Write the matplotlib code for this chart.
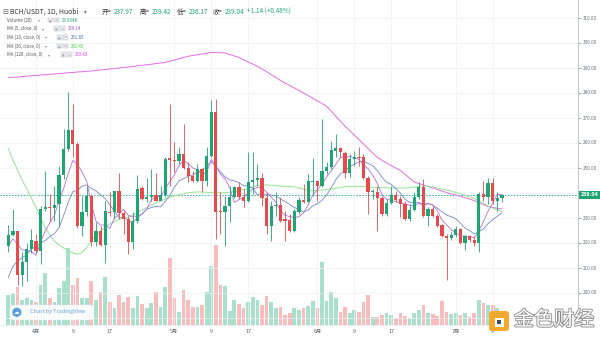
import matplotlib
matplotlib.use('Agg')
import matplotlib.pyplot as plt
import matplotlib.patheffects as pe
import matplotlib.transforms as mtransforms
from matplotlib.patches import Rectangle, FancyBboxPatch, Circle
import numpy as np
import pandas as pd

plt.rcParams['font.family'] = ['Noto Sans CJK SC', 'DejaVu Sans']

# daily BCH/USDT candles, 2020-03-26 .. 2020-07-11
start_date = '2020-03-26'
opens = [218.6, 223.2, 224.4, 207.2, 212.1, 217.5, 220.8, 216.8, 233.5, 234.4,
         234.0, 235.5, 247.1, 257.5, 264.8, 259.5, 226.8, 232.4, 238.5, 220.2,
         224.4, 219.1, 232.4, 232.4, 240.7, 231.8, 229.5, 220.4, 228.8, 241.8,
         237.5, 238.4, 239.1, 236.8, 239.1, 253.8, 253.1, 252.6, 255.5, 249.8,
         246.6, 244.6, 249.5, 244.8, 254.8, 272.4, 232.8, 232.4, 234.8, 238.2,
         242.2, 238.2, 236.8, 244.2, 245.2, 245.9, 237.9, 226.8, 234.6, 235.2,
         229.5, 228.8, 224.6, 232.4, 237.2, 236.2, 244.4, 244.8, 242.8, 248.8,
         250.2, 256.8, 257.8, 255.8, 247.9, 253.5, 254.2, 254.2, 245.8, 240.2,
         240.4, 237.8, 231.5, 235.9, 239.1, 237.5, 235.5, 229.5, 233.2, 238.2,
         242.2, 230.8, 233.5, 230.6, 227.1, 222.8, 221.9, 223.2, 225.5, 219.8,
         222.6, 221.2, 219.9, 239.5, 238.2, 243.9, 236.8, 237.97]
highs = [227.1, 233.5, 224.8, 216.2, 220.0, 225.5, 223.5, 234.8, 248.8, 239.5,
         242.8, 250.8, 265.5, 280.2, 275.5, 260.2, 238.8, 242.8, 239.5, 228.2,
         226.8, 236.8, 240.2, 240.7, 247.9, 232.8, 230.8, 232.2, 247.1, 242.8,
         245.8, 249.5, 247.9, 242.8, 254.2, 275.5, 260.2, 258.2, 267.5, 252.2,
         248.8, 251.5, 249.8, 258.2, 277.2, 277.5, 240.2, 238.8, 242.8, 242.8,
         244.2, 241.5, 256.2, 256.2, 251.5, 247.9, 240.2, 236.8, 240.2, 238.2,
         232.8, 231.5, 233.5, 238.2, 243.5, 247.5, 253.8, 245.2, 269.5, 252.2,
         260.8, 263.5, 258.2, 256.8, 255.5, 256.8, 258.2, 255.5, 246.8, 241.5,
         242.8, 238.8, 237.5, 242.8, 240.8, 238.8, 236.8, 235.5, 240.2, 244.2,
         245.5, 234.2, 234.6, 231.5, 227.5, 223.5, 224.2, 226.8, 225.8, 223.2,
         223.2, 222.8, 240.4, 244.8, 245.8, 245.8, 240.2, 239.42]
lows = [216.2, 222.5, 203.1, 202.8, 204.8, 216.0, 216.0, 211.5, 232.5, 228.8,
        228.8, 226.8, 245.5, 256.8, 254.1, 226.0, 222.8, 230.8, 218.8, 218.8,
        218.5, 212.0, 230.8, 229.5, 229.5, 223.5, 215.5, 217.5, 228.0, 237.0,
        236.2, 236.8, 236.8, 236.5, 238.2, 242.8, 248.2, 251.5, 249.5, 244.2,
        244.2, 244.2, 240.2, 242.8, 254.2, 221.5, 223.5, 218.8, 228.2, 238.0,
        237.5, 234.2, 236.2, 239.5, 242.8, 234.8, 223.5, 220.8, 230.8, 228.2,
        220.8, 224.2, 224.2, 231.5, 235.9, 236.2, 238.8, 236.8, 242.2, 247.5,
        249.5, 254.2, 254.2, 245.8, 246.2, 250.8, 250.8, 245.5, 231.5, 237.5,
        224.8, 230.8, 230.8, 235.5, 236.2, 230.2, 229.2, 228.8, 232.8, 237.5,
        230.2, 226.5, 230.2, 226.2, 222.2, 205.2, 221.2, 222.2, 219.5, 217.2,
        220.2, 218.8, 216.2, 236.8, 235.5, 235.5, 232.8, 236.17]
closes = [223.2, 224.4, 207.2, 212.1, 217.5, 220.8, 216.8, 233.5, 234.4, 233.9,
          235.2, 247.1, 257.5, 264.8, 259.5, 226.8, 232.4, 238.8, 220.2, 224.4,
          219.1, 232.4, 232.0, 240.7, 231.8, 229.5, 220.4, 228.8, 241.5, 237.5,
          238.4, 239.1, 236.8, 239.1, 253.5, 253.1, 252.6, 255.5, 249.8, 246.6,
          244.6, 249.5, 244.8, 254.8, 272.4, 232.4, 232.4, 234.8, 238.2, 242.2,
          238.2, 236.8, 244.2, 245.2, 245.9, 237.9, 226.8, 234.6, 235.2, 228.8,
          228.8, 224.6, 232.4, 237.2, 236.2, 244.4, 244.8, 242.8, 248.8, 250.2,
          256.8, 257.8, 256.4, 247.9, 253.5, 254.2, 253.8, 245.8, 240.2, 240.6,
          237.8, 231.5, 235.9, 239.1, 237.2, 235.5, 229.5, 233.2, 238.2, 242.2,
          230.8, 233.5, 230.6, 226.8, 222.8, 221.9, 223.2, 225.5, 219.8, 222.6,
          221.2, 219.9, 239.5, 238.2, 243.9, 236.8, 237.8, 239.04]
# volume, thousands
volumes = [55, 59, 70, 46, 50, 46, 42, 74, 96, 50,
           42, 68, 81, 142, 74, 86, 50, 50, 81, 46,
           61, 88, 42, 31, 55, 42, 52, 31, 53, 39,
           31, 40, 61, 33, 70, 123, 50, 24, 64, 46,
           33, 33, 37, 61, 109, 147, 74, 72, 26, 46,
           39, 31, 42, 52, 46, 37, 53, 42, 31, 33,
           18, 22, 31, 28, 31, 35, 44, 31, 116, 44,
           61, 50, 24, 33, 22, 28, 24, 42, 55, 15,
           15, 18, 22, 18, 13, 22, 17, 13, 22, 28,
           37, 22, 20, 17, 44, 24, 20, 22, 18, 22,
           15, 22, 46, 40, 37, 37, 31, 23.904]
# closes of the days before the first visible candle (for the short MAs)
prior_closes = [180, 185, 200, 205, 197, 210, 218, 224, 218]
# longer moving averages
ma30 = [257.5, 253.0, 249.0, 245.0, 241.5, 237.8, 234.0, 229.8, 226.0, 223.0,
        220.5, 219.0, 217.8, 216.8, 215.8, 215.3, 216.0, 218.0, 220.8, 222.8,
        224.6, 226.0, 227.4, 228.3, 229.3, 229.8, 230.2, 230.9, 232.0, 233.0,
        234.0, 234.9, 235.8, 236.7, 237.4, 238.0, 238.6, 239.1, 239.5, 239.9,
        240.1, 240.2, 240.2, 240.1, 240.0, 240.0, 239.9, 239.9, 240.1, 240.4,
        240.8, 241.2, 241.6, 242.2, 242.8, 243.0, 243.0, 242.9, 242.8, 242.6,
        242.5, 242.4, 242.2, 241.8, 241.3, 240.8, 240.7, 240.8, 241.0, 241.2,
        241.4, 241.7, 242.0, 242.3, 242.4, 242.5, 242.5, 242.4, 242.2, 242.1,
        242.0, 241.9, 241.9, 241.8, 241.8, 241.8, 241.8, 242.0, 242.2, 242.4,
        242.6, 242.5, 242.2, 241.8, 241.4, 241.0, 240.6, 240.0, 239.5, 238.9,
        238.2, 237.6, 236.7, 235.7, 234.6, 233.7, 233.0, 232.45]
ma120 = [286.0, 286.1, 286.2, 286.4, 286.5, 286.7, 286.8, 287.0, 287.1, 287.3,
         287.4, 287.6, 287.7, 287.9, 288.0, 288.2, 288.3, 288.5, 288.6, 288.8,
         289.0, 289.2, 289.4, 289.6, 289.8, 290.0, 290.2, 290.4, 290.7, 290.9,
         291.1, 291.3, 291.6, 291.8, 292.0, 292.5, 293.0, 293.5, 294.0, 294.5,
         294.8, 295.1, 295.4, 295.7, 296.0, 296.0, 295.9, 295.8, 295.2, 294.6,
         294.0, 293.1, 292.2, 291.4, 290.5, 289.4, 288.3, 287.1, 286.0, 284.8,
         283.8, 282.8, 281.8, 280.8, 279.8, 278.8, 277.7, 276.6, 275.6, 274.5,
         272.5, 270.5, 268.5, 266.5, 264.8, 263.0, 261.2, 259.4, 257.6, 255.8,
         254.0, 252.9, 251.8, 250.8, 249.8, 248.8, 247.3, 245.7, 244.2, 243.6,
         243.0, 242.4, 241.8, 241.2, 240.6, 240.0, 239.5, 239.0, 238.5, 237.9,
         237.4, 236.8, 236.0, 235.2, 234.4, 234.0, 233.7, 233.43]
price_ticks = [200, 210, 220, 230, 250, 260, 270, 280, 290, 300, 310]

UP, DOWN = '#1fa474', '#e8494a'
UP_V, DOWN_V = '#a9e0cc', '#f8bcbc'

n = len(closes)
idx = np.arange(n)
dates = pd.date_range(start_date, periods=n, freq='D')
o = np.array(opens); c = np.array(closes)
h = np.array(highs); l = np.array(lows)
up = c >= o

allc = pd.Series(prior_closes + closes)
ma5 = allc.rolling(5).mean().values[len(prior_closes):]
ma10 = allc.rolling(10).mean().values[len(prior_closes):]

fig = plt.figure(figsize=(6, 3.38), dpi=100)
rect = [0, 13 / 338, 578 / 600, 325 / 338]

# volume underneath
vax = fig.add_axes(rect)
vax.bar(idx, volumes, width=0.8, color=np.where(up, UP_V, DOWN_V), lw=0)
vax.set_ylim(0, 598)
vax.set_xlim(-1.8, 123.5)
vax.axis('off')

ax = fig.add_axes(rect, facecolor='none')
ax.set_xlim(-1.8, 123.5)
ax.set_ylim(187, 317)

# ticks / grid
tick_pos, tick_lab = [], []
for i, d in enumerate(dates):
    if d.day == 1:
        tick_pos.append(i); tick_lab.append(f'{d.month}月')
    elif d.day in (9, 17):
        tick_pos.append(i); tick_lab.append(str(d.day))
ax.set_xticks(tick_pos)
ax.set_xticklabels(tick_lab)
ax.set_yticks(price_ticks)
ax.set_yticklabels([f'{v:.2f}' for v in price_ticks])
ax.set_yticks([190, 240], minor=True)
ax.yaxis.tick_right()
ax.grid(color='#eef0f5', lw=0.5, zorder=0)
ax.grid(which='minor', axis='y', color='#eef0f5', lw=0.5, zorder=0)
ax.tick_params(axis='y', which='both', labelsize=3.3, colors='#6a6d78', length=2, width=0.4, pad=1.5)
ax.tick_params(axis='x', labelsize=3.8, colors='#555a66', length=0, pad=3)
for s in ('left', 'top'):
    ax.spines[s].set_visible(False)
ax.spines['right'].set_color('#b8bcc6')
ax.spines['right'].set_linewidth(0.6)
ax.spines['bottom'].set_color('#e3e6ec')
ax.spines['bottom'].set_linewidth(0.5)

# moving averages
ax.plot(idx, ma120, color='#e36be3', lw=0.7, zorder=2)
ax.plot(idx, ma30, color='#94e494', lw=0.7, zorder=2)
ax.plot(idx, ma10, color='#7388c8', lw=0.6, zorder=2)
ax.plot(idx, ma5, color='#b56ee0', lw=0.6, zorder=2)

# candles
cols = np.where(up, UP, DOWN)
ax.vlines(idx, l, h, colors=cols, lw=0.6, zorder=3)
body_lo = np.minimum(o, c)
body_h = np.maximum(np.abs(c - o), 0.4)
ax.bar(idx, body_h, bottom=body_lo, width=0.7, color=cols, lw=0, zorder=4)

# last price line + label
last = closes[-1]
ax.axhline(last, color='#26a69a', lw=0.6, ls=(0, (2, 1.5)), zorder=1)
tr = mtransforms.blended_transform_factory(ax.transAxes, ax.transData)
ax.text(1.004, last, f'{last:.2f}', transform=tr, fontsize=3.3, color='white',
        va='center', ha='left', family='DejaVu Sans', fontweight='bold',
        bbox=dict(boxstyle='square,pad=0.3', fc=UP, ec='none'), clip_on=False)

# overlay in pixel coordinates for header, legend and watermarks
ov = fig.add_axes([0, 0, 1, 1], facecolor='none')
ov.set_xlim(0, 600)
ov.set_ylim(338, 0)
ov.axis('off')

FAM = ['Noto Sans CJK SC', 'DejaVu Sans']
def put(x, y, s, color='#434651', size=3.2):
    ov.text(x, y, s, color=color, fontsize=size, va='center', ha='left', family=FAM)

GV = '#22a57a'
put(2.5, 12, '⊟', '#666', 5)
put(10, 12, 'BCH/USDT, 1D, Huobi', '#333', 4.9)
put(84, 12, '▾', '#777', 4)
for x, lab, val in [(102, '开=', '237.97'), (140, '高=', '239.42'),
                    (177, '低=', '236.17'), (213, '收=', '239.04')]:
    put(x, 12, lab, '#333', 4.6)
    put(x + 11.5, 12, val, GV, 4.6)
put(247, 12, '+1.14 (+0.48%)', GV, 4.6)

legend_rows = [
    (20.0, 'Volume (20)', 38, 48, '23.904K', GV),
    (28.7, 'MA (5, close, 0)', 42, 54, '239.14', '#a44fc9'),
    (37.3, 'MA (10, close, 0)', 45, 57, '231.85', '#3f5fa8'),
    (46.0, 'MA (30, close, 0)', 45, 57, '232.45', '#3ccf3c'),
    (54.7, 'MA (120, close, 0)', 48, 61, '233.43', '#e03ee0'),
]
for y, lab, xa, xi, val, vc in legend_rows:
    put(7, y, lab, '#555', 3.2)
    put(xa, y, '▾', '#888', 2.8)
    for k in range(2):
        ov.add_patch(Rectangle((xi + k * 6, y - 2.3), 4.6, 4.6, fc='#eceef2', ec='#b7bac2', lw=0.3))
    ov.text(xi + 2.3, y, '◉', fontsize=2.2, color='#999', ha='center', va='center', family='DejaVu Sans')
    ov.text(xi + 8.3, y, '×', fontsize=3, color='#999', ha='center', va='center', family='DejaVu Sans')
    put(xi + 13.5, y, val, vc, 3.2)

# TradingView badge
ov.add_patch(FancyBboxPatch((10, 305), 84, 15, boxstyle='round,pad=0,rounding_size=4',
                            fc='white', ec='#e3e6ec', lw=0.4, alpha=0.92))
ov.add_patch(Circle((16.8, 312.3), 4.6, fc='#5c9ddd', ec='none'))
ov.text(16.8, 312.3, '☁', fontsize=4, color='white', ha='center', va='center', family='DejaVu Sans')
put(30, 312, 'Chart by TradingView', '#5f9ee6', 4.0)

# 金色财经 watermark
ov.add_patch(FancyBboxPatch((489, 311), 20, 20, boxstyle='round,pad=0,rounding_size=3',
                            fc='#f5a623', ec='none', alpha=0.95))
ov.add_patch(Rectangle((494.5, 318), 9, 9, fc='white', ec='none'))
ov.add_patch(Rectangle((496.5, 320), 4, 4, fc='#3f4a5a', ec='none'))
ov.text(554, 320, '金色财经', fontsize=14.5, color='white', ha='center', va='center',
        family=FAM, path_effects=[pe.withStroke(linewidth=1.3, foreground='#8e8e8e')])

fig.savefig('out.png', dpi=100, facecolor='white')
